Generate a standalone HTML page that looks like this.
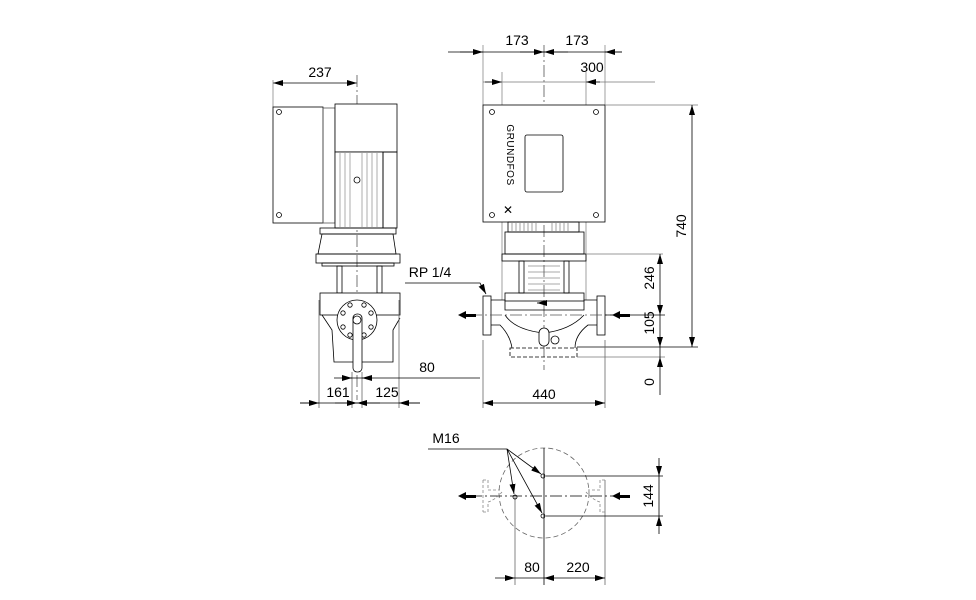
<!DOCTYPE html>
<html><head><meta charset="utf-8"><style>
html,body{margin:0;padding:0;background:#fff;}
svg{display:block;}
text{font-family:"Liberation Sans",Arial,sans-serif;font-size:14px;fill:#000;}
</style></head><body>
<svg width="976" height="600" viewBox="0 0 976 600" xmlns="http://www.w3.org/2000/svg">
<defs>
<marker id="a" viewBox="0 0 10 6" refX="10" refY="3" markerWidth="10" markerHeight="6" orient="auto-start-reverse" markerUnits="userSpaceOnUse"><path d="M0,0L10,3L0,6z" fill="#000"/></marker>
</defs>
<g fill="none" stroke="#000" stroke-width="0.8">
<!-- LEFT VIEW -->
<line x1="273" y1="83" x2="357" y2="83" marker-start="url(#a)" marker-end="url(#a)"/>
<line x1="273" y1="80" x2="273" y2="107" stroke="#888"/>
<line x1="357" y1="75" x2="357" y2="400" stroke="#555" stroke-dasharray="12,3,2,3"/>
<rect x="273" y="107" width="50" height="116" fill="#fff"/>
<rect x="323" y="108" width="12" height="115" stroke="#555"/>
<circle cx="279" cy="112" r="2.5"/><circle cx="279" cy="215" r="2.5"/>
<rect x="335" y="104" width="62" height="48" fill="#fff"/>
<rect x="335" y="152" width="48" height="76" fill="#fff"/>
<g stroke="#777" stroke-width="0.6"><line x1="340" y1="153" x2="340" y2="227"/><line x1="345" y1="153" x2="345" y2="227"/><line x1="350" y1="153" x2="350" y2="227"/><line x1="362" y1="153" x2="362" y2="227"/><line x1="367" y1="153" x2="367" y2="227"/><line x1="372" y1="153" x2="372" y2="227"/><line x1="377" y1="153" x2="377" y2="227"/></g>
<circle cx="357" cy="180" r="3"/>
<rect x="383" y="152" width="14" height="76"/>
<rect x="320" y="228" width="76" height="6"/>
<path d="M322,234 L393,234 L396,254 L318,254 Z"/>
<rect x="316" y="254" width="84" height="9"/>
<rect x="322" y="263" width="72" height="3"/>
<rect x="337" y="266" width="5" height="27"/><rect x="377" y="266" width="5" height="27"/>
<rect x="320" y="293" width="80" height="22" fill="#fff"/>
<path d="M322,315 L332,330 L334,362 L393,362 L393,330 L400,318"/>
<circle cx="357" cy="320" r="20" fill="#fff"/>
<g><circle cx="350" cy="305" r="2.2"/><circle cx="364" cy="305" r="2.2"/><circle cx="343" cy="313" r="2.2"/><circle cx="371" cy="313" r="2.2"/><circle cx="343" cy="327" r="2.2"/><circle cx="371" cy="327" r="2.2"/><circle cx="350" cy="335" r="2.2"/><circle cx="364" cy="335" r="2.2"/></g>
<rect x="353" y="314" width="9" height="58" rx="4" fill="#fff"/>
<circle cx="357" cy="320" r="4"/>
<line x1="319" y1="300" x2="319" y2="408" stroke="#666"/>
<line x1="399" y1="300" x2="399" y2="408" stroke="#666"/>
<line x1="352" y1="372" x2="352" y2="408" stroke="#666"/>
<line x1="362" y1="372" x2="362" y2="408" stroke="#666"/>
<line x1="334" y1="378" x2="480" y2="378"/>
<line x1="345" y1="378" x2="352" y2="378" marker-end="url(#a)"/>
<line x1="372" y1="378" x2="362" y2="378" marker-end="url(#a)"/>
<line x1="300" y1="403" x2="420" y2="403"/>
<line x1="300" y1="403" x2="319" y2="403" marker-end="url(#a)"/>
<line x1="335" y1="403" x2="357" y2="403" marker-end="url(#a)"/>
<line x1="380" y1="403" x2="357" y2="403" marker-end="url(#a)"/>
<line x1="420" y1="403" x2="399" y2="403" marker-end="url(#a)"/>
<!-- RP leader -->
<polyline points="405,283 480,283 486,294" marker-end="url(#a)"/>
<!-- FRONT VIEW -->
<line x1="544" y1="45" x2="544" y2="370" stroke="#555" stroke-dasharray="12,3,2,3"/>
<line x1="483" y1="45" x2="483" y2="105" stroke="#888"/>
<line x1="605" y1="45" x2="605" y2="105" stroke="#888"/>
<line x1="448" y1="52" x2="622" y2="52"/>
<line x1="460" y1="52" x2="483" y2="52" marker-end="url(#a)"/>
<line x1="520" y1="52" x2="544" y2="52" marker-end="url(#a)"/>
<line x1="568" y1="52" x2="544" y2="52" marker-end="url(#a)"/>
<line x1="622" y1="52" x2="605" y2="52" marker-end="url(#a)"/>
<line x1="483" y1="82" x2="655" y2="82" stroke="#777"/>
<line x1="485" y1="82" x2="502" y2="82" marker-end="url(#a)"/>
<line x1="600" y1="82" x2="586" y2="82" marker-end="url(#a)"/>
<line x1="502" y1="72" x2="502" y2="300" stroke="#888"/>
<line x1="586" y1="72" x2="586" y2="300" stroke="#888"/>
<rect x="483" y="105" width="122" height="117" fill="#fff"/>
<rect x="525" y="135" width="38" height="57" rx="2"/>
<circle cx="492" cy="112" r="2.5"/><circle cx="596" cy="112" r="2.5"/><circle cx="492" cy="215" r="2.5"/><circle cx="596" cy="215" r="2.5"/>
<rect x="508" y="222" width="71" height="10"/>
<g stroke="#666" stroke-width="0.6"><line x1="512" y1="223" x2="512" y2="231"/><line x1="516" y1="223" x2="516" y2="231"/><line x1="520" y1="223" x2="520" y2="231"/><line x1="524" y1="223" x2="524" y2="231"/><line x1="528" y1="223" x2="528" y2="231"/><line x1="532" y1="223" x2="532" y2="231"/><line x1="536" y1="223" x2="536" y2="231"/><line x1="552" y1="223" x2="552" y2="231"/><line x1="556" y1="223" x2="556" y2="231"/><line x1="560" y1="223" x2="560" y2="231"/><line x1="564" y1="223" x2="564" y2="231"/><line x1="568" y1="223" x2="568" y2="231"/></g>
<rect x="505" y="232" width="79" height="22"/>
<rect x="502" y="254" width="84" height="7"/>
<line x1="586" y1="254" x2="663" y2="254" stroke="#777"/>
<rect x="519" y="261" width="5" height="32"/><rect x="564" y="261" width="5" height="32"/>
<g stroke="#555" stroke-width="0.6"><line x1="528" y1="266" x2="560" y2="266"/><line x1="528" y1="272" x2="560" y2="272"/><line x1="528" y1="278" x2="560" y2="278"/><line x1="528" y1="284" x2="560" y2="284"/><line x1="528" y1="290" x2="560" y2="290"/></g>
<rect x="505" y="293" width="79" height="8"/>
<rect x="483" y="296" width="8" height="39" fill="#fff"/>
<rect x="597" y="296" width="8" height="39" fill="#fff"/>
<path d="M491,300 L505,300 L505,310 L584,310 L584,300 L597,300"/>
<path d="M491,325 L500,325 Q510,335 512,348 M597,325 L588,325 Q575,335 575,348"/>
<path d="M505,315 Q515,330 544,333 Q570,330 584,315"/>
<rect x="539" y="328" width="10" height="18" rx="5" fill="#fff"/>
<circle cx="555" cy="340" r="4"/>
<rect x="510" y="348" width="67" height="9" stroke-dasharray="4,2"/>
<line x1="470" y1="315" x2="620" y2="315" stroke="#555" stroke-dasharray="12,3,2,3"/>
<line x1="547" y1="303" x2="537" y2="303" marker-end="url(#a)"/>
<!-- vertical dims -->
<line x1="605" y1="105" x2="698" y2="105" stroke="#777"/>
<line x1="692" y1="105" x2="692" y2="347" marker-start="url(#a)" marker-end="url(#a)"/>
<line x1="577" y1="347" x2="698" y2="347"/>
<line x1="577" y1="357" x2="665" y2="357" stroke="#777"/>
<line x1="605" y1="315" x2="665" y2="315"/>
<line x1="660" y1="254" x2="660" y2="315" marker-start="url(#a)" marker-end="url(#a)"/>
<line x1="660" y1="315" x2="660" y2="347" marker-end="url(#a)"/>
<line x1="660" y1="347" x2="660" y2="357"/>
<line x1="660" y1="370" x2="660" y2="357" marker-end="url(#a)"/>
<line x1="660" y1="370" x2="660" y2="395"/>
<line x1="483" y1="340" x2="483" y2="408" stroke="#666"/>
<line x1="605" y1="340" x2="605" y2="408" stroke="#666"/>
<line x1="483" y1="403" x2="605" y2="403" marker-start="url(#a)" marker-end="url(#a)"/>
<!-- BOTTOM VIEW -->
<circle cx="544" cy="493" r="45" stroke="#666" stroke-dasharray="5,3"/>
<line x1="544" y1="448" x2="544" y2="585"/>
<line x1="515" y1="497" x2="515" y2="585" stroke="#666"/>
<line x1="605" y1="480" x2="605" y2="585" stroke="#666"/>
<line x1="470" y1="496" x2="620" y2="496" stroke-dasharray="12,3,2,3"/>
<line x1="546" y1="476" x2="663" y2="476"/>
<line x1="546" y1="516" x2="663" y2="516"/>
<line x1="659" y1="458" x2="659" y2="476" marker-end="url(#a)"/>
<line x1="659" y1="534" x2="659" y2="516" marker-end="url(#a)"/>
<line x1="659" y1="476" x2="659" y2="516"/>
<circle cx="543" cy="476" r="2"/><circle cx="515" cy="497" r="2"/><circle cx="543" cy="516" r="2"/>
<polyline points="428,449 507,449"/>
<line x1="507" y1="449" x2="541" y2="474" marker-end="url(#a)"/>
<line x1="507" y1="449" x2="514" y2="494" marker-end="url(#a)"/>
<line x1="507" y1="449" x2="542" y2="513" marker-end="url(#a)"/>
<path d="M483,480 L488,480 L488,490 L500,490 M483,512 L488,512 L488,502 Q495,500 502,492 M483,480 L483,512" stroke="#888" stroke-dasharray="3,2"/>
<path d="M605,480 L600,480 L600,490 L588,490 M605,512 L600,512 L600,502 Q593,500 586,492" stroke="#888" stroke-dasharray="3,2"/>
<line x1="495" y1="578" x2="515" y2="578" marker-end="url(#a)"/>
<line x1="515" y1="578" x2="544" y2="578"/>
<line x1="544" y1="578" x2="605" y2="578" marker-start="url(#a)" marker-end="url(#a)"/>
</g>
<!-- flow arrows -->
<g fill="#000">
<path d="M458,315 L466,311 L466,314 L476,314 L476,317 L466,317 L466,319 Z"/>
<path d="M612,315 L620,311 L620,314 L630,314 L630,317 L620,317 L620,319 Z"/>
<path d="M458,496 L466,492 L466,495 L476,495 L476,498 L466,498 L466,500 Z"/>
<path d="M612,496 L620,492 L620,495 L630,495 L630,498 L620,498 L620,500 Z"/>
</g>
<text x="320" y="77" text-anchor="middle">237</text>
<text x="517" y="45" text-anchor="middle">173</text>
<text x="577" y="45" text-anchor="middle">173</text>
<text x="592" y="72" text-anchor="middle">300</text>
<text x="430" y="277" text-anchor="middle">RP 1/4</text>
<text x="427" y="372" text-anchor="middle">80</text>
<text x="338" y="397" text-anchor="middle">161</text>
<text x="387" y="397" text-anchor="middle">125</text>
<text x="544" y="399" text-anchor="middle">440</text>
<text transform="translate(686,226) rotate(-90)" text-anchor="middle">740</text>
<text transform="translate(654,278) rotate(-90)" text-anchor="middle">246</text>
<text transform="translate(654,323) rotate(-90)" text-anchor="middle">105</text>
<text transform="translate(654,382) rotate(-90)" text-anchor="middle">0</text>
<text transform="translate(507,155) rotate(90)" text-anchor="middle" style="font-size:10px;letter-spacing:0.5px">GRUNDFOS</text>
<text x="508" y="214" text-anchor="middle" style="font-size:12px">✕</text>
<text x="446" y="443" text-anchor="middle">M16</text>
<text transform="translate(653,496) rotate(-90)" text-anchor="middle">144</text>
<text x="532" y="572" text-anchor="middle">80</text>
<text x="578" y="572" text-anchor="middle">220</text>
</svg>
</body></html>
